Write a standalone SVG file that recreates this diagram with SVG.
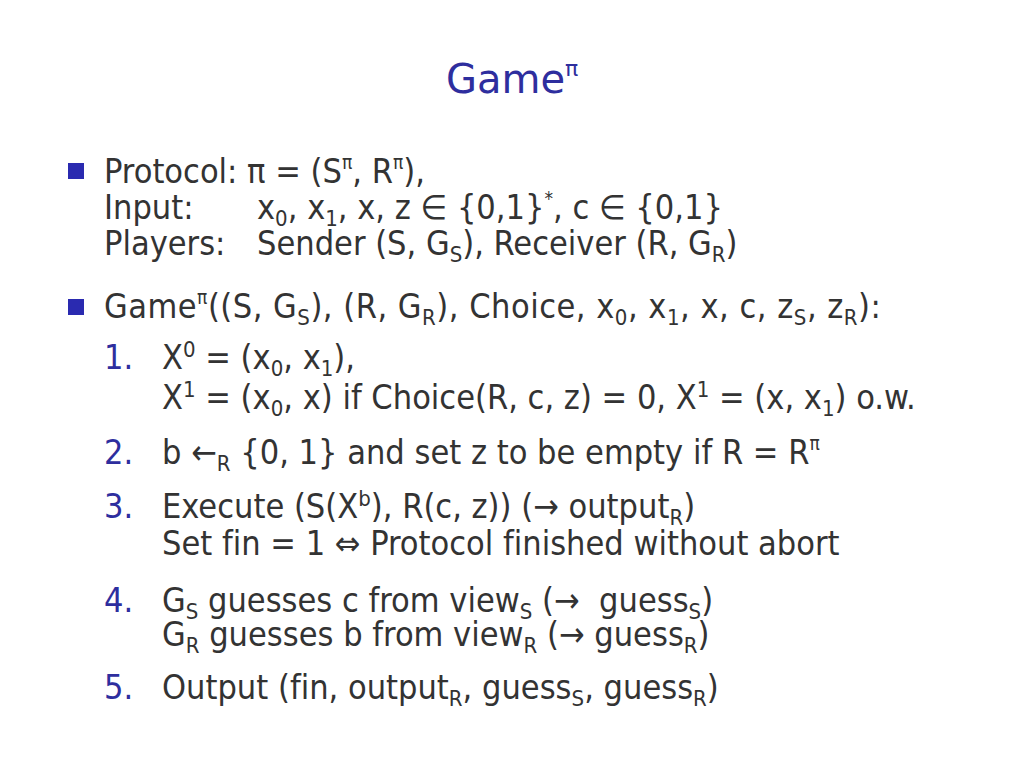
<svg xmlns="http://www.w3.org/2000/svg" width="1024" height="768" viewBox="0 0 1024 768">
<style>
text{font-family:"DejaVu Sans Condensed","DejaVu Sans",sans-serif;font-size:34px;fill:#333333;white-space:pre;font-variant-ligatures:none}
.title{font-family:"DejaVu Sans",sans-serif;font-size:40px;fill:#2e2e9e}
.num{fill:#2e2e9e}
.sub{font-size:22px;baseline-shift:-7px}
.sup{font-size:22px;baseline-shift:12px}
.pi{font-size:19px;baseline-shift:14px}
.bullet{fill:#2a2ab0}
</style>
<rect width="1024" height="768" fill="#ffffff"/>
<g id="title"><text class="title" x="446" y="93">Game<tspan class="pi" style="font-size:22px;baseline-shift:17px">π</tspan></text></g>
<g id="bullet1">
<rect class="bullet" x="68" y="163" width="16" height="16"/>
<text x="104" y="183">Protocol: π = (S<tspan class="pi">π</tspan>, R<tspan class="pi">π</tspan>),</text>
<text x="104" y="219">Input:</text>
<text x="257" y="219">x<tspan class="sub">0</tspan>, x<tspan class="sub">1</tspan>, x, z ∈ {0,1}<tspan class="pi">*</tspan>, c ∈ {0,1}</text>
<text x="104" y="255">Players:</text>
<text x="257" y="255">Sender (S, G<tspan class="sub">S</tspan>), Receiver (R, G<tspan class="sub">R</tspan>)</text>
</g>
<g id="bullet2">
<rect class="bullet" x="68" y="299" width="16" height="16"/>
<text x="104" y="318" style="letter-spacing:0.5px">Game<tspan class="pi">π</tspan>((S, G<tspan class="sub">S</tspan>), (R, G<tspan class="sub">R</tspan>), Choice, x<tspan class="sub">0</tspan>, x<tspan class="sub">1</tspan>, x, c, z<tspan class="sub">S</tspan>, z<tspan class="sub">R</tspan>):</text>
</g>
<g id="step1">
<text class="num" x="104" y="369">1.</text>
<text x="162" y="369">X<tspan class="sup">0</tspan> = (x<tspan class="sub">0</tspan>, x<tspan class="sub">1</tspan>),</text>
<text x="162" y="409">X<tspan class="sup">1</tspan> = (x<tspan class="sub">0</tspan>, x) if Choice(R, c, z) = 0, X<tspan class="sup">1</tspan> = (x, x<tspan class="sub">1</tspan>) o.w.</text>
</g>
<g id="step2">
<text class="num" x="104" y="464">2.</text>
<text x="162" y="464">b ←<tspan class="sub">R</tspan> {0, 1} and set z to be empty if R = R<tspan class="pi">π</tspan></text>
</g>
<g id="step3">
<text class="num" x="104" y="518">3.</text>
<text x="162" y="518">Execute (S(X<tspan class="sup">b</tspan>), R(c, z)) (→ output<tspan class="sub">R</tspan>)</text>
<text x="162" y="555">Set fin = 1 ⇔ Protocol finished without abort</text>
</g>
<g id="step4">
<text class="num" x="104" y="612">4.</text>
<text x="162" y="612">G<tspan class="sub">S</tspan> guesses c from view<tspan class="sub">S</tspan> (→  guess<tspan class="sub">S</tspan>)</text>
<text x="162" y="646">G<tspan class="sub">R</tspan> guesses b from view<tspan class="sub">R</tspan> (→ guess<tspan class="sub">R</tspan>)</text>
</g>
<g id="step5">
<text class="num" x="104" y="699">5.</text>
<text x="162" y="699">Output (fin, output<tspan class="sub">R</tspan>, guess<tspan class="sub">S</tspan>, guess<tspan class="sub">R</tspan>)</text>
</g>
</svg>
